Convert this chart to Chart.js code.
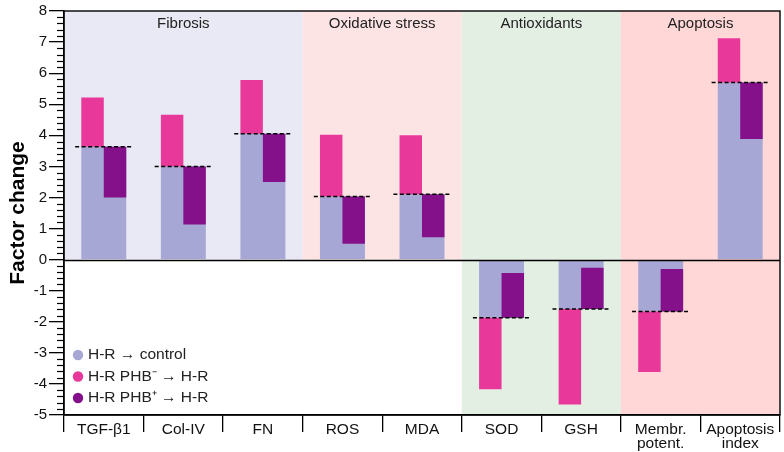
<!DOCTYPE html>
<html>
<head>
<meta charset="utf-8">
<script src="https://cdn.jsdelivr.net/npm/chart.js@4"></script>
<style>
  html, body { margin: 0; padding: 0; background: #fff; }
  #wrap { width: 784px; height: 452px; }
</style>
</head>
<body>
<div id="wrap"><canvas id="grafico"></canvas></div>
<script>
const categorias = ["TGF-β1", "Col-IV", "FN", "ROS", "MDA", "SOD", "GSH", ["Membr.", "potent."], ["Apoptosis", "index"]];
const controle = [3.63, 3.0, 4.05, 2.03, 2.1, -1.87, -1.59, -1.67, 5.70];
const phbMenos = [5.22, 4.66, 5.78, 4.02, 4.0, -4.17, -4.66, -3.62, 7.12];
const phbMais = [2.0, 1.13, 2.5, 0.51, 0.72, -0.43, -0.26, -0.30, 3.88];

const grupos = ["Fibrosis", "Oxidative stress", "Antioxidants", "Apoptosis"];
const grupoInicio = [0, 3, 5, 7];
const grupoFim = [2, 4, 6, 8];
const grupoPiso = [0, 0, -5, -5];
const grupoCores = ["#e9e9f5", "#fde4e4", "#e4efe4", "#ffd7d7"];

const legendas = ["H-R \u2192 control", "H-R PHB\u207B \u2192 H-R", "H-R PHB\u207A \u2192 H-R"];
const cores = ["#a6a7d4", "#e8389a", "#84118a"];

const FONTE = "'Liberation Sans', Arial, sans-serif";

const fundoPlugin = {
  id: "fundo",
  beforeDraw(chart) {
    const { ctx, chartArea, scales } = chart;
    const x = scales.x, y = scales.y;
    const passo = x.getPixelForValue(1) - x.getPixelForValue(0);
    ctx.save();
    grupos.forEach((g, i) => {
      const x0 = x.getPixelForValue(grupoInicio[i]) - passo / 2;
      const x1 = x.getPixelForValue(grupoFim[i]) + passo / 2;
      const yTopo = chartArea.top;
      const yBase = y.getPixelForValue(grupoPiso[i]);
      ctx.fillStyle = grupoCores[i];
      ctx.fillRect(x0, yTopo, x1 - x0, yBase - yTopo);
    });
    ctx.restore();
  },
  afterDatasetsDraw(chart) {
    const { ctx, chartArea, scales } = chart;
    const x = scales.x, y = scales.y;
    const passo = x.getPixelForValue(1) - x.getPixelForValue(0);
    ctx.save();

    // linha do zero e moldura
    ctx.strokeStyle = "#000";
    ctx.lineWidth = 1.4;
    const y0 = Math.round(y.getPixelForValue(0)) + 0.5;
    ctx.beginPath();
    ctx.moveTo(chartArea.left, y0);
    ctx.lineTo(chartArea.right, y0);
    ctx.stroke();
    ctx.strokeRect(chartArea.left, chartArea.top, chartArea.right - chartArea.left, chartArea.bottom - chartArea.top);

    // linhas tracejadas no nivel do controle
    ctx.lineWidth = 1.5;
    ctx.setLineDash([4, 2.5]);
    controle.forEach((v, i) => {
      const cx = x.getPixelForValue(i);
      const py = y.getPixelForValue(v);
      ctx.beginPath();
      ctx.moveTo(cx - passo * 0.36, py);
      ctx.lineTo(cx + passo * 0.36, py);
      ctx.stroke();
    });
    ctx.setLineDash([]);

    // ticks menores do eixo y
    ctx.lineWidth = 1.2;
    for (let k = y.min * 5; k <= y.max * 5; k++) {
      if (k % 5 === 0) continue;
      const py = Math.round(y.getPixelForValue(k / 5)) + 0.5;
      ctx.beginPath();
      ctx.moveTo(chartArea.left - 7, py);
      ctx.lineTo(chartArea.left, py);
      ctx.stroke();
    }

    // titulos dos grupos
    ctx.fillStyle = "#222";
    ctx.font = "15px " + FONTE;
    ctx.textAlign = "center";
    ctx.textBaseline = "middle";
    grupos.forEach((g, i) => {
      const x0 = x.getPixelForValue(grupoInicio[i]) - passo / 2;
      const x1 = x.getPixelForValue(grupoFim[i]) + passo / 2;
      ctx.fillText(g, (x0 + x1) / 2, chartArea.top + 13);
    });

    // legenda
    ctx.textAlign = "left";
    ctx.font = "15.5px " + FONTE;
    legendas.forEach((txt, i) => {
      const ly = chartArea.bottom - 60 + i * 21.5;
      ctx.fillStyle = cores[i];
      ctx.beginPath();
      ctx.arc(chartArea.left + 14, ly, 5.2, 0, Math.PI * 2);
      ctx.fill();
      ctx.fillStyle = "#222";
      ctx.fillText(txt, chartArea.left + 24, ly);
    });
    ctx.restore();
  }
};

new Chart(document.getElementById("grafico"), {
  type: "bar",
  data: {
    labels: categorias,
    datasets: [
      {
        label: legendas[0],
        data: controle.map(v => [0, v]),
        backgroundColor: cores[0],
        grouped: false,
        order: 2,
        categoryPercentage: 0.565,
        barPercentage: 1
      },
      {
        label: legendas[1],
        data: controle.map((v, i) => [v, phbMenos[i]]),
        backgroundColor: cores[1],
        order: 1,
        categoryPercentage: 0.565,
        barPercentage: 1
      },
      {
        label: legendas[2],
        data: controle.map((v, i) => [phbMais[i], v]),
        backgroundColor: cores[2],
        order: 1,
        categoryPercentage: 0.565,
        barPercentage: 1
      }
    ]
  },
  options: {
    responsive: true,
    maintainAspectRatio: false,
    animation: false,
    layout: { padding: { top: 9, right: 4, left: 0, bottom: 0 } },
    plugins: {
      legend: { display: false },
      tooltip: { enabled: false }
    },
    scales: {
      x: {
        offset: true,
        grid: { offset: true, drawOnChartArea: false, tickLength: 17, color: "#000", tickColor: "#000", lineWidth: 1.3 },
        border: { color: "#000", width: 1.4 },
        ticks: {
          color: "#111",
          font: { family: FONTE, size: 15.5, lineHeight: 0.95 },
          padding: -10,
          maxRotation: 0,
          autoSkip: false
        },
        afterFit: s => { s.height = 37; }
      },
      y: {
        min: -5,
        max: 8,
        ticks: {
          stepSize: 1,
          color: "#111",
          font: { family: FONTE, size: 15 },
          padding: 2
        },
        grid: { drawOnChartArea: false, tickLength: 15, tickColor: "#000", lineWidth: 1.3 },
        border: { color: "#000", width: 1.4 },
        title: {
          display: true,
          text: "Factor change",
          color: "#000",
          font: { family: FONTE, size: 21, weight: "bold" },
          padding: { top: 6, bottom: 0 }
        },
        afterFit: s => { s.width = 64; }
      }
    }
  },
  plugins: [fundoPlugin]
});
</script>
</body>
</html>
